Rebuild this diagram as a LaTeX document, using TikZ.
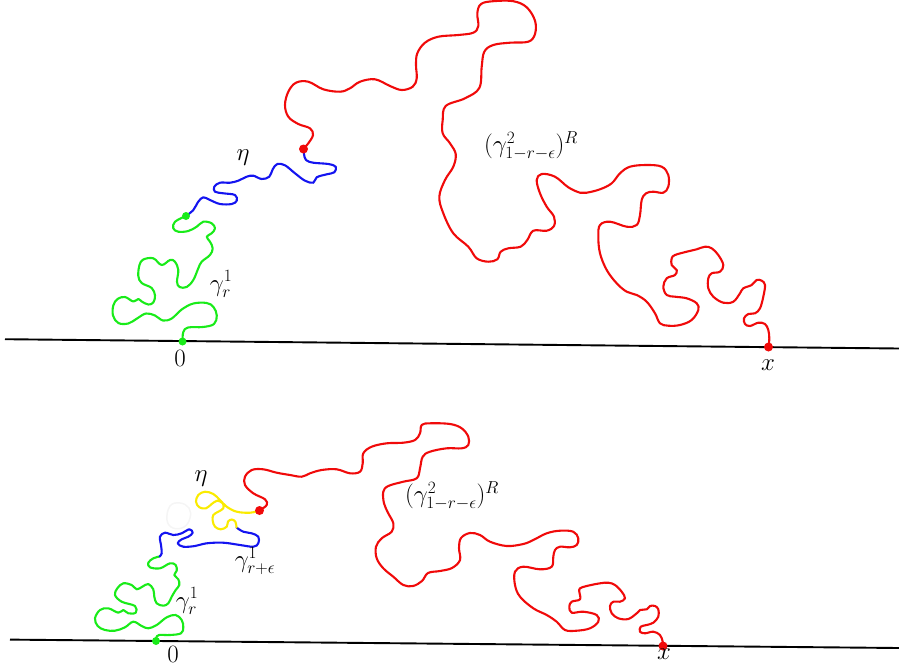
\documentclass[tikz,border=0pt]{standalone}
\definecolor{cgreen}{RGB}{25,235,25}
\definecolor{cred}{RGB}{240,10,10}
\definecolor{cblue}{RGB}{20,20,240}
\definecolor{cyellow}{RGB}{250,235,0}
\begin{document}
\begin{tikzpicture}[x=1pt,y=-1pt,
  wig/.style={line width=2.1pt,line join=round,line cap=round},
  axisline/.style={line width=1.9pt,black},
  dotg/.style={circle,fill=cgreen,inner sep=0pt,minimum size=8pt},
  dotr/.style={circle,fill=cred,inner sep=0pt,minimum size=9pt},
  lab/.style={inner sep=0pt,font=\fontsize{24}{29}\selectfont}]
\useasboundingbox (0,0) rectangle (899,667);
% ---------------- top panel ----------------
\coordinate (l1a) at (5,339.2);
\coordinate (l1b) at (899,348.5);
\draw[axisline] (l1a) -- (l1b);
\coordinate (o1) at (182.5,341.5);
\coordinate (g1) at (186,216);
\coordinate (r1) at (303.5,149);
\coordinate (x1) at (768.5,347);
\draw[wig,cgreen] plot[smooth,tension=0.6] coordinates {(o1) (183.3,332) (188,327.5) (203,327) (214,324) (216.8,315.5) (213.5,307) (206.7,303) (193.3,303.5) (181.7,309.5) (171.7,318.5) (163,320.5) (155,315.5) (146,313.5) (137,318.5) (128.3,323.5) (118.3,323) (113,315.5) (113.3,305.5) (117.5,299) (125,297) (133.3,301.5) (138.3,299) (141.7,301.5) (148.3,304.5) (153.3,302.5) (155,295.5) (151.7,288) (141.7,283) (138.3,276) (139.5,265) (143.3,259.5) (153.3,258.3) (161.7,265) (170,260) (175,261.7) (178.3,270) (177,281.7) (179.5,287) (186.7,287) (193.3,280) (198.3,268.3) (201.7,261.7) (210,255) (212.7,248.3) (210,241.7) (206.7,236.7) (211.7,233.3) (215,228.3) (211.7,223.3) (203.3,221.7) (196.7,226.7) (188.3,231) (178.3,231.7) (173.3,228.3) (175,221.7) (g1)};
\draw[wig,cblue] plot[smooth,tension=0.6] coordinates {(g1) (193.3,210) (198.3,201.7) (203.3,197.3) (210,200) (220,204) (231.7,204) (236.7,200.7) (235,195) (223.3,193.3) (215,191.7) (214.3,186.7) (220,182.7) (230,182.7) (238.3,180.7) (246.7,176.7) (253.3,175.7) (261.7,179) (269.3,176.7) (272.7,169.3) (277.3,164) (285,165.3) (295,173.3) (305,180.7) (313.3,182.7) (316.7,177.3) (326.7,174.3) (334.3,172.3) (335.7,166.7) (328.3,164) (313.3,162.7) (306,160) (304,154) (r1)};
\draw[wig,cred] plot[smooth,tension=0.6] coordinates {(r1) (308.3,143.3) (313,135) (310,128.3) (298.3,124) (288.3,116.7) (285,105) (288.3,91.7) (296,82.7) (308.3,81.7) (323.3,89.3) (340,91.7) (350,88.3) (360,81.7) (375,79.3) (390,86) (401.7,90) (412.7,86.7) (416.7,78.3) (416,65) (417.3,53.3) (425,42.7) (438.3,36.7) (458.3,35) (473.3,32.7) (478.3,26) (477.3,13.3) (481,4) (493.3,1.2) (513.3,1.2) (526.7,7.3) (535,20.7) (535,34) (528.3,41.7) (510,42.7) (493.3,45) (484.3,51.7) (481.7,66.7) (479.3,88) (465,98.3) (445.7,106) (442.7,120) (442.7,133.3) (450,143.3) (455.7,154) (453.3,166.7) (445,180) (439.3,196.7) (443.3,213.3) (453.3,233.3) (468.3,246.7) (476.7,258.3) (488.3,261.7) (497.3,259.3) (500.7,251.7) (508.3,248.3) (520.7,246.7) (527.3,240) (533.3,230.7) (546.7,230.7) (554,226) (554,216.7) (546.7,206.7) (540,193.3) (536.7,180) (541.7,174) (555,176.7) (568.3,187.3) (580,192.7) (586.7,192.7) (600,189.3) (611.7,183.3) (620,173.3) (630,166.7) (646.7,165) (661.7,166.7) (668.3,175) (668.3,186.7) (663.3,192.7) (653.3,191.7) (646,193.3) (641.7,200) (640,215) (636.7,225) (626.7,226.7) (610,221.7) (600,225) (598.3,236.7) (600,253.3) (606.7,270) (616.7,283.3) (626.7,291.7) (636.7,295) (646.7,301.7) (655,313.3) (660,323.3) (668.3,325.7) (680,325) (691.7,320) (698.3,310) (696.7,303.3) (686.7,298.3) (675,296.7) (666.7,295) (663.3,286.7) (666.7,278.3) (675,275) (676.7,270) (671.7,265) (671.7,258.3) (675,255) (686.7,251.7) (696.7,249.3) (705,246.7) (711.7,248.3) (718.3,255) (723.3,265) (720,271.7) (711.7,273.3) (708.3,278.3) (708.3,288.3) (713.3,296.7) (723.3,302.7) (733.3,301.7) (740,293.3) (743.3,288.3) (751.7,285) (756.7,280) (761.7,280.7) (765,285) (763.3,296.7) (760,308.3) (755,313.3) (748.3,314) (744,318.3) (745,324) (750,326) (758.3,322.7) (765,324) (768.3,330) (769.3,338.3) (x1)};
\node[dotg] (o1d) at (o1) {};
\node[dotg] (g1d) at (g1) {};
\node[dotr] (r1d) at (r1) {};
\node[dotr] (x1d) at (x1) {};
\node[lab] (eta1) at (243,158) {$\eta$};
\node[lab] (gam1) at (221,284) {$\gamma_r^1$};
\node[lab] (gR1) at (531,146) {$(\gamma^2_{1-r-\epsilon})^R$};
\node[lab] (zero1) at (180,358) {$0$};
\node[lab] (xl1) at (768,365) {$x$};
% ---------------- bottom panel ----------------
\coordinate (l2a) at (10,639.6);
\coordinate (l2b) at (899,648);
\draw[axisline] (l2a) -- (l2b);
\coordinate (o2) at (156,641);
\coordinate (g2) at (159.5,556.5);
\coordinate (b2) at (236.5,527.5);
\coordinate (r2) at (259.5,510.5);
\coordinate (x2) at (663,646);
\draw[line width=1.5pt,black!4] plot[smooth cycle,tension=0.7] coordinates {(170,506) (180,503) (189,508) (190,518) (184,527) (173,528) (167,520)};
\draw[wig,cgreen] plot[smooth,tension=0.6] coordinates {(o2) (156.3,637.7) (159,635) (170,635) (181,633.3) (183.3,627.3) (181.7,620) (175.7,615) (166.7,617.3) (156.7,625) (148.3,628.3) (141.7,626) (133.3,621.7) (125,627.3) (115,630.7) (105,630) (97.7,626) (95,618.3) (100,610) (108.3,608.3) (118.3,612.7) (123.3,610) (128.3,613.3) (135.7,612.7) (135,606) (121.7,601.7) (115,595) (117.3,588.3) (123.3,583.3) (131.7,585) (136.7,589.3) (142.3,586.7) (148.3,584) (153.3,589.3) (154.3,596.7) (156.7,603.3) (163.3,605.7) (168.3,603.3) (171.7,596.7) (175.7,590) (179.3,585) (178.3,579.3) (174.3,575) (176.7,570.7) (175.7,565) (170,563.3) (160,568.3) (150,567.3) (148.3,562.7) (153.3,558.3) (g2)};
\draw[wig,cblue] plot[smooth,tension=0.6] coordinates {(g2) (161.7,553.3) (161,545) (160,536.7) (165,532.7) (173.3,535) (181.7,533.3) (189.3,529.3) (192.7,532.7) (188.3,536.7) (181.7,539.3) (177.7,543.3) (183.3,546.7) (195,546) (206.7,543.3) (223.3,542.7) (240,545) (253.3,546.7) (258.3,543.3) (258.3,536.7) (251.7,533.3) (243.3,531.7) (b2)};
\draw[wig,cyellow] plot[smooth,tension=0.6] coordinates {(b2) (235.5,522) (232,519.5) (228,521.5) (226.7,526.7) (220.7,529.3) (215,526.7) (212.7,520.7) (213.3,515) (218.3,511.7) (223.3,508.3) (222.7,503.3) (217.3,500.7) (211.7,504) (206,508.3) (199.3,507.3) (196,501.7) (198.3,495) (205,491.7) (213.3,494) (220,500) (226.7,506.7) (236.7,511.7) (250,512.7) (r2)};
\draw[wig,cred] plot[smooth,tension=0.6] coordinates {(r2) (266.7,505) (265,499.3) (253.3,493.3) (245,485) (245,476.7) (251.7,470) (263.3,469.3) (276.7,472.7) (290,475) (301.7,476.7) (310,473.3) (321.7,470) (336.7,469.3) (350,473.3) (360,471.7) (362.7,463.3) (363.3,453.3) (371.7,446.7) (386.7,443.3) (403.3,442.7) (415,440) (420,433.3) (421.7,425) (430,423.3) (450,424) (461.7,428.3) (468.3,436.7) (468.3,445) (461.7,448.3) (446.7,448.3) (430,451.7) (422.7,456.7) (420,468.3) (416.7,478.3) (403.3,481.7) (388.3,486) (383.3,491.7) (384,503.3) (388.3,513.3) (393.3,523.3) (391.7,531.7) (381.7,538.3) (376,546.7) (376.7,558.3) (383.3,568.3) (393.3,576.7) (403.3,585) (413,586) (422,581) (428,573) (440,571) (452,568) (460,560) (459,548) (461,538) (470,533) (480,535) (490,541.7) (506.7,546) (523.3,544) (533.3,540) (546.7,533.3) (560,530.7) (573.3,531.7) (578.3,538.3) (576.7,545) (570,547.3) (560,546.7) (555,550) (553.3,556.7) (551.7,566.7) (540,569.3) (523.3,566.7) (515,571.7) (515,585) (520,596.7) (533.3,608.3) (546.7,615) (556.7,621.7) (565,630) (576.7,630.7) (590,628.3) (598.3,621.7) (596.7,615) (583.3,611.7) (571.7,612.7) (569.3,606.7) (571.7,601.7) (580,599.3) (579.3,591.7) (580,588.3) (586.7,586) (600,583.3) (608.3,582.7) (615,585) (621.7,591.7) (625,598.3) (620,601.7) (613.3,601.7) (610,606) (611.7,613.3) (618.3,618.3) (628.3,619) (636.7,613.3) (640,610) (646.7,609.3) (650,606) (655,606) (658.3,609.3) (658.3,616.7) (653.3,622.7) (646.7,625) (640.7,626.7) (640,631.7) (645,633.3) (653.3,631.7) (660,635) (662.7,641.7) (x2)};
\node[dotg] (o2d) at (o2) {};
\node[dotr] (r2d) at (r2) {};
\node[dotr] (x2d) at (x2) {};
\node[lab] (eta2) at (201,479) {$\eta$};
\node[lab] (gam2b) at (255,561) {$\gamma^1_{r+\epsilon}$};
\node[lab] (gam2) at (187,601) {$\gamma_r^1$};
\node[lab] (gR2) at (452,496) {$(\gamma^2_{1-r-\epsilon})^R$};
\node[lab] (zero2) at (173,654) {$0$};
\node[lab] (xl2) at (664,654) {$x$};
\end{tikzpicture}
\end{document}
